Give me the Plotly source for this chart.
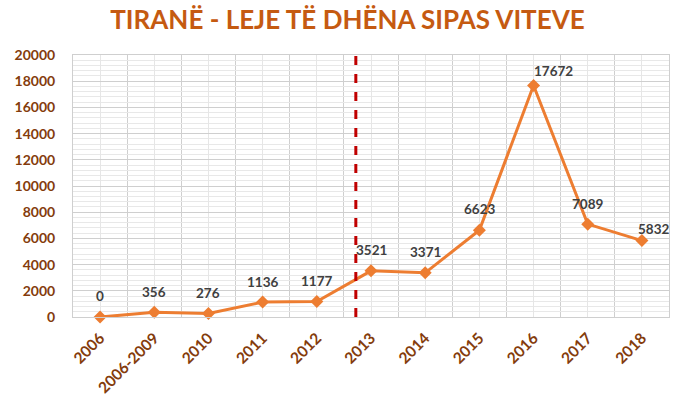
import plotly.graph_objects as go

categories = ["2006", "2006-2009", "2010", "2011", "2012", "2013", "2014", "2015", "2016", "2017", "2018"]
permits = [0, 356, 276, 1136, 1177, 3521, 3371, 6623, 17672, 7089, 5832]
divider_position = 4.72  # between 2012 and 2013 (category index units)
title_text = "TIRANË - LEJE TË DHËNA SIPAS VITEVE"
y_ticks = list(range(0, 20001, 2000))

# label offsets in pixels (style)
label_dx = [0, 0, 0, 0, 0, 0, 0, 0, 20, 0, 12]
label_dy = [21, 20, 20, 20, 21, 21, 21, 21, 15, 20, 12]

FONT = "Lato"
idx = list(range(len(categories)))

fig = go.Figure()
fig.add_trace(go.Scatter(
    x=idx, y=permits, mode="lines+markers",
    line=dict(color="#ED7D31", width=3),
    marker=dict(symbol="diamond", size=10, color="#ED7D31"),
    hoverinfo="skip", showlegend=False, cliponaxis=False,
))

for i, v in enumerate(permits):
    fig.add_annotation(
        x=idx[i], y=v, text=f"<b>{v}</b>", showarrow=False,
        xshift=label_dx[i], yshift=label_dy[i],
        font=dict(family=FONT, size=13.5, color="#404040"),
    )

fig.add_shape(
    type="line", xref="x", yref="paper",
    x0=divider_position, x1=divider_position, y0=0, y1=1,
    line=dict(color="#C00000", width=3, dash="dash"),
)

fig.update_layout(
    width=680, height=398,
    margin=dict(l=73, r=11, t=55, b=81, autoexpand=False),
    paper_bgcolor="white", plot_bgcolor="white",
    title=dict(text=f"<b>{title_text}</b>", x=0.511, xanchor="center",
               xref="container", y=0.95, yanchor="middle", automargin=False,
               font=dict(family=FONT, size=26, color="#C55A11")),
)

fig.update_xaxes(
    automargin=False,
    range=[-0.5, len(categories) - 0.5],
    tickmode="array", tickvals=idx, ticktext=[f"<b>{c}</b>" for c in categories],
    tickangle=-45, tickfont=dict(family=FONT, size=15.5, color="#843C0C"),
    ticklabelstandoff=5,
    showgrid=True, gridcolor="#E6E6E6", gridwidth=1,
    minor=dict(tickmode="array", tickvals=[i - 0.5 for i in range(len(categories) + 1)],
               showgrid=True, gridcolor="#CFCFCF", gridwidth=1, ticks=""),
    showline=True, linecolor="#CFCFCF", mirror=True, zeroline=False,
    ticks="",
)
fig.update_yaxes(
    automargin=False,
    range=[0, 20000],
    tickvals=y_ticks, ticktext=[f"<b>{t}</b>" for t in y_ticks],
    tickfont=dict(family=FONT, size=14, color="#843C0C"),
    ticklabelstandoff=14,
    showgrid=True, gridcolor="#CFCFCF", gridwidth=1,
    minor=dict(dtick=400, showgrid=True, gridcolor="#E8E8E8", gridwidth=1),
    showline=True, linecolor="#CFCFCF", mirror=True, zeroline=False,
    ticks="",
)

fig.write_html("out.html", config={"displayModeBar": False},
               post_script="document.body.style.margin='0';")
